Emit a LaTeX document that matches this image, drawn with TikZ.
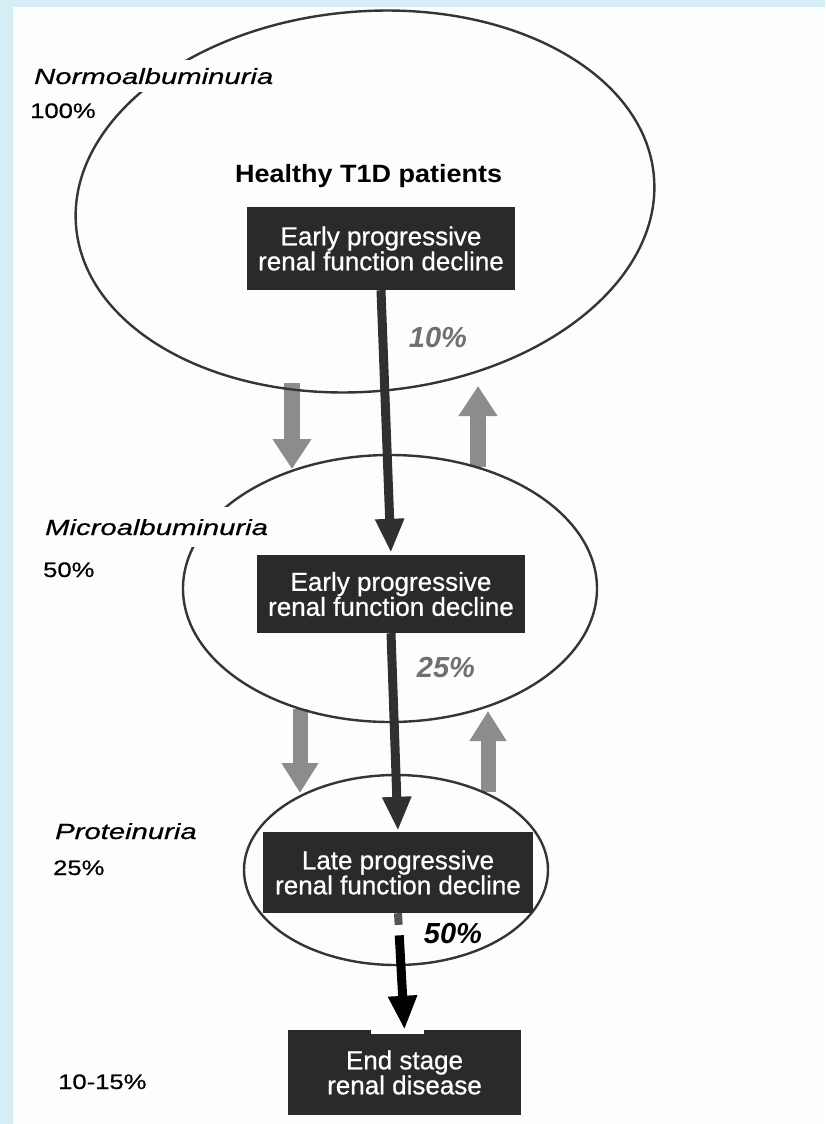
\documentclass[tikz,border=0pt]{standalone}
\usepackage{fontspec}
\setmainfont{Liberation Sans}
\newfontfamily\lblfont[FakeStretch=1.33,FakeBold=0.6]{Liberation Sans}
\newfontfamily\pctfont[FakeStretch=1.22,FakeBold=0.6]{Liberation Sans}
\newfontfamily\headfont[FakeStretch=1.08]{Liberation Sans}
\newfontfamily\boxfont[FakeBold=0.7]{Liberation Sans}
\usetikzlibrary{arrows.meta,calc}
\definecolor{framebg}{HTML}{D6EFF6}
\definecolor{pagebg}{HTML}{FCFDFD}
\definecolor{boxfill}{HTML}{2A2A2A}
\definecolor{mainarrow}{HTML}{303030}
\definecolor{stubgray}{HTML}{555555}
\definecolor{sidearrow}{HTML}{8C8C8C}
\definecolor{pctgray}{HTML}{707070}
\definecolor{ellcol}{HTML}{353535}
\begin{document}
\begin{tikzpicture}[x=1pt,y=-1pt,
  ell/.style={draw=ellcol, line width=2.4pt},
  stagebox/.style={fill=boxfill, text=white, font=\boxfont\fontsize{26}{25}\selectfont, align=center, minimum width=268pt, minimum height=82pt, inner sep=0pt},
  sidelabel/.style={anchor=base west, inner sep=0pt, font=\lblfont\itshape\fontsize{22}{22}\selectfont, text=black},
  gaplabel/.style={sidelabel, fill=pagebg, inner xsep=6pt, inner ysep=8pt},
  sidepct/.style={anchor=base west, inner sep=0pt, font=\pctfont\fontsize{21}{21}\selectfont, text=black},
  midpct/.style={anchor=base, inner sep=0pt, font=\bfseries\itshape\fontsize{29}{29}\selectfont},
  flow/.style={draw=mainarrow, line width=9pt, -{Triangle[width=27pt,length=34pt]}},
  backA/.style={draw=sidearrow, line width=16pt, -{Triangle[width=37pt,length=30pt]}},
  backB/.style={draw=sidearrow, line width=15pt, -{Triangle[width=35pt,length=30pt]}},
]
\useasboundingbox (0,0) rectangle (825,1124);
\fill[framebg] (0,0) rectangle (825,1124);
\fill[pagebg] (13,7) rectangle (825,1124);

% side (gray) arrows between stages
\coordinate (d1s) at (292,383); \coordinate (d1e) at (292,469);
\coordinate (u1s) at (478,467); \coordinate (u1e) at (478,386);
\coordinate (d2s) at (300,709); \coordinate (d2e) at (300,793);
\coordinate (u2s) at (488,792); \coordinate (u2e) at (488,711);
\draw[backA] (d1s) -- (d1e);
\draw[backA] (u1s) -- (u1e);
\draw[backB] (d2s) -- (d2e);
\draw[backB] (u2s) -- (u2e);

% stage ellipses
\draw[ell, rotate around={5:(365,201.5)}] (365,201.5) ellipse [x radius=290, y radius=190];
\draw[ell] (390,588.5) ellipse [x radius=207, y radius=133.5];
\draw[ell] (396,870) ellipse [x radius=152, y radius=95];

% side labels
\node[gaplabel] (lnormo) at (28,84) {Normoalbuminuria};
\node[sidepct] (pnormo) at (30,118) {100\%};
\node[gaplabel, inner ysep=12pt] (lmicro) at (39,535) {Microalbuminuria};
\node[sidepct] (pmicro) at (43,577) {50\%};
\node[sidelabel] (lprot) at (55,839) {Proteinuria};
\node[sidepct] (pprot) at (53,875) {25\%};
\node[sidepct] (pesrd) at (58,1089) {10-15\%};

\node[anchor=base west, inner sep=0pt, font=\headfont\bfseries\fontsize{25}{25}\selectfont] (healthy) at (235,182) {Healthy T1D patients};

% boxes
\node[stagebox, minimum height=83pt] (b1) at (381,248.5) {Early progressive\\renal function decline};
\node[stagebox, minimum height=78pt] (b2) at (391,594) {Early progressive\\renal function decline};
\node[stagebox, minimum height=81pt, minimum width=270pt] (b3) at (398,872.5) {Late progressive\\renal function decline};
\node[stagebox, minimum height=85pt, minimum width=233pt] (b4) at (404.5,1072.5) {End stage\\renal disease};

% main flow
\draw[flow, shorten >=2pt] (b1.south) -- (b2.north);
\draw[flow, shorten >=1pt] (b2.south) -- (b3.north);
\coordinate (s3a) at ($(b3.south)!0.1!(b4.north)$);
\coordinate (s3b) at ($(b3.south)!0.19!(b4.north)$);
\draw[draw=stubgray, line width=8pt] (b3.south) -- (s3a);
\fill[white] ($(b4.north west)+(83,0)$) rectangle ++(53,4);
\draw[flow, draw=black] (s3b) -- (b4.north);

% percentages
\node[midpct, text=pctgray] (p10) at (438,347) {10\%};
\node[midpct, text=pctgray] (p25) at (446,677) {25\%};
\node[midpct, text=black] (p50) at (453,943) {50\%};
\end{tikzpicture}
\end{document}
